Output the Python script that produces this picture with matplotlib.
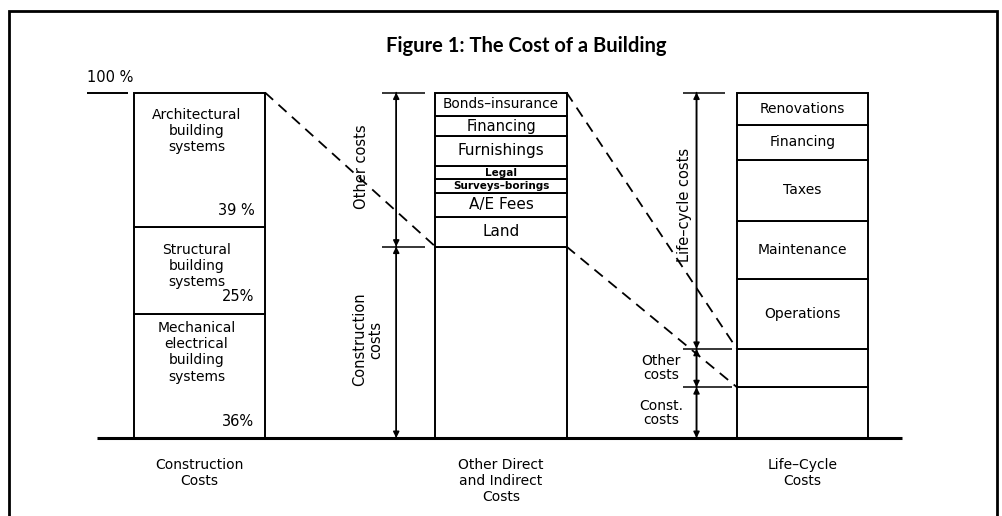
import matplotlib.pyplot as plt
from matplotlib.patches import Rectangle

# data (percent of total life-cycle height)
categories = ["Construction\nCosts", "Other Direct\nand Indirect\nCosts", "Life–Cycle\nCosts"]

constr_labels = ["Mechanical\nelectrical\nbuilding\nsystems", "Structural\nbuilding\nsystems",
                 "Architectural\nbuilding\nsystems"]
constr_pct = [36, 25, 39]
constr_pct_text = ["36%", "25%", "39 %"]

other_labels = ["", "Land", "A/E Fees", "Surveys–borings", "Legal", "Furnishings", "Financing", "Bonds–insurance"]
other_vals = [55.4, 8.7, 6.9, 3.9, 3.9, 8.7, 5.6, 6.9]
other_sizes = [10, 11, 11, 7.5, 7.5, 11, 10.5, 9.8]

life_labels = ["", "", "Operations", "Maintenance", "Taxes", "Financing", "Renovations"]
life_vals = [14.7, 11.1, 20.1, 16.9, 17.8, 10.1, 9.3]

FONT = "DejaVu Sans"
xpos = [0, 1, 2]
w = 0.435

fig = plt.figure(figsize=(10.03, 5.16), dpi=100)
ax = fig.add_axes([0, 0, 1, 1])
ax.set_xlim(-0.6617, 2.665)
ax.set_ylim(-22.59, 126.8)
ax.axis("off")


def stack(x, vals):
    bottoms = []
    b = 0
    for v in vals:
        ax.bar(x, v, bottom=b, width=w, facecolor="white", edgecolor="black", linewidth=1.4, zorder=2)
        bottoms.append(b)
        b += v
    return bottoms


# bar 1
b1 = stack(xpos[0], constr_pct)
for lab, pct, txt, b in zip(constr_labels, constr_pct, constr_pct_text, b1):
    ax.text(xpos[0] - 0.01, b + pct - 11.2, lab, ha="center", va="center", fontsize=10,
            family=FONT, linespacing=1.2, zorder=3)
    ax.text(xpos[0] + w / 2 - 0.035, b + 4.9, txt, ha="right", va="center", fontsize=10.5,
            family=FONT, zorder=3)

# bar 2
b2 = stack(xpos[1], other_vals)
for lab, v, b, fs in zip(other_labels, other_vals, b2, other_sizes):
    if lab:
        bold = "bold" if fs < 8 else "normal"
        ax.text(xpos[1], b + v / 2, lab, ha="center", va="center", fontsize=fs, family=FONT,
                fontweight=bold, zorder=3)

# bar 3
b3 = stack(xpos[2], life_vals)
for lab, v, b in zip(life_labels, life_vals, b3):
    if lab:
        ax.text(xpos[2], b + v / 2, lab, ha="center", va="center", fontsize=10, family=FONT, zorder=3)

# baseline and 100% mark
ax.hlines(0, xpos[0] - 0.34, xpos[-1] + 0.33, color="black", lw=2.2, zorder=4)
ax.hlines(100, xpos[0] - 0.373, xpos[0] - 0.237, color="black", lw=1.4)
ax.text(xpos[0] - 0.373, 104.3, "100 %", ha="left", va="center", fontsize=10.5, family=FONT)

# dashed connectors
top_constr = other_vals[0]
top_other = life_vals[0] + life_vals[1]
dash = dict(color="black", lw=1.3, linestyle=(0, (6, 4)), zorder=1)
ax.plot([xpos[0] + w / 2, xpos[1] - w / 2], [100, top_constr], **dash)
ax.plot([xpos[1] + w / 2, xpos[2] - w / 2], [100, top_other], **dash)
ax.plot([xpos[1] + w / 2, xpos[2] - w / 2], [top_constr, life_vals[0]], **dash)


def dim(x, y0, y1):
    ax.annotate("", xy=(x, y1), xytext=(x, y0),
                arrowprops=dict(arrowstyle="-|>", color="black", lw=1.1, mutation_scale=9,
                                shrinkA=0, shrinkB=0))
    ax.annotate("", xy=(x, y0), xytext=(x, y1),
                arrowprops=dict(arrowstyle="-|>", color="black", lw=1.1, mutation_scale=9,
                                shrinkA=0, shrinkB=0))


# dimension arrows for bar 2
dx2 = xpos[1] - w / 2 - 0.13
for yy in [top_constr, 100]:
    ax.hlines(yy, dx2 - 0.047, xpos[1] - w / 2 - 0.035, color="black", lw=1.1)
dim(dx2, top_constr, 100)
dim(dx2, 0, top_constr)
ax.text(dx2 - 0.115, 78.5, "Other costs", rotation=90, ha="center", va="center", fontsize=10.5, family=FONT)
ax.text(dx2 - 0.095, 28.5, "Construction\ncosts", rotation=90, ha="center", va="center",
        fontsize=10.5, family=FONT, linespacing=1.15)

# dimension arrows for bar 3
dx3 = xpos[2] - w / 2 - 0.134
ax.hlines(100, dx3 - 0.045, xpos[2] - w / 2 - 0.04, color="black", lw=1.1)
for yy in [life_vals[0], top_other]:
    ax.hlines(yy, dx3 - 0.045, xpos[2] - w / 2 - 0.017, color="black", lw=1.1)
dim(dx3, top_other, 100)
dim(dx3, life_vals[0], top_other)
dim(dx3, 0, life_vals[0])
ax.text(dx3 - 0.04, 67.5, "Life–cycle costs", rotation=90, ha="center", va="center", fontsize=10.5, family=FONT)
ax.text(dx3 - 0.118, life_vals[0] + life_vals[1] / 2, "Other\ncosts", ha="center", va="center",
        fontsize=10, family=FONT, linespacing=1.0)
ax.text(dx3 - 0.118, life_vals[0] / 2, "Const.\ncosts", ha="center", va="center",
        fontsize=10, family=FONT, linespacing=1.0)

# category labels
for x, c in zip(xpos, categories):
    ax.text(x, -5.8, c, ha="center", va="top", fontsize=10, family=FONT, linespacing=1.2)

# title and frame
fig.text(0.525, 1 - 46 / 516, "Figure 1: The Cost of a Building", ha="center", va="center",
         fontsize=14.5, family="Lato", fontweight="bold")
fig.add_artist(Rectangle((9 / 1003, -0.1), 988 / 1003, 1.1 - 11 / 516, transform=fig.transFigure,
                         fill=False, edgecolor="black", lw=2))

plt.savefig("out.png", dpi=100)
